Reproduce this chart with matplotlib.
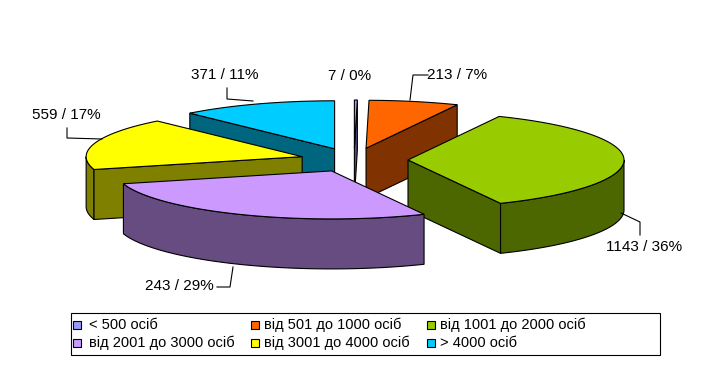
import numpy as np
import matplotlib
matplotlib.use("Agg")
import matplotlib.pyplot as plt
from matplotlib.patches import Polygon, Rectangle

# ---- data ----
categories = ["< 500 осіб", "від 501 до 1000 осіб", "від 1001 до 2000 осіб",
              "від 2001 до 3000 осіб", "від 3001 до 4000 осіб", "> 4000 осіб"]
values = [7, 213, 1143, 880, 559, 371]          # slice sizes (read from slice shares)
label_texts = ["7 / 0%", "213 / 7%", "1143 / 36%", "243 / 29%", "559 / 17%", "371 / 11%"]
top_colors = ["#9999FF", "#FF6600", "#99CC00", "#CC99FF", "#FFFF00", "#00CCFF"]
side_colors = ["#4C4C80", "#803300", "#4C6600", "#664C80", "#808000", "#006680"]

# ---- layout (pixel space) ----
W, H = 710, 391
CX, CY = 354, 160
RX, RY = 216, 48
DEPTH = 50
EXPLODE = 0.25
LW = 0.8
FONT = "Liberation Sans"

fig = plt.figure(figsize=(W / 100, H / 100), dpi=100)
ax = fig.add_axes([0, 0, 1, 1])
ax.set_xlim(0, W)
ax.set_ylim(H, 0)
ax.axis("off")

vals = np.array(values, dtype=float)
frac = vals / vals.sum()
ends = np.cumsum(frac) * 360.0
starts = ends - frac * 360.0


def pt(theta, ox, oy, dz=0.0, r=1.0):
    t = np.radians(theta)
    return ox + r * RX * np.sin(t), oy - r * RY * np.cos(t) + dz


slices = []
for i in range(len(vals)):
    mid = (starts[i] + ends[i]) / 2
    ox = CX + EXPLODE * RX * np.sin(np.radians(mid))
    oy = CY - EXPLODE * RY * np.cos(np.radians(mid))
    slices.append((oy, i, ox))

for oy, i, ox in sorted(slices):
    ts, te = starts[i], ends[i]
    kw_side = dict(facecolor=side_colors[i], edgecolor="black", linewidth=LW, joinstyle="miter")
    # outer wall (front half only)
    a0, a1 = max(ts, 90.0), min(te, 270.0)
    if a1 > a0:
        aa = np.linspace(a0, a1, 120)
        xs, ys = pt(aa, ox, oy)
        poly = np.column_stack([np.concatenate([xs, xs[::-1]]),
                                np.concatenate([ys, ys[::-1] + DEPTH])])
        ax.add_patch(Polygon(poly, closed=True, **kw_side))
    # radial walls
    for ang, visible in ((ts, np.sin(np.radians(ts)) < -1e-6),
                         (te, np.sin(np.radians(te)) > 1e-6)):
        if visible:
            px, py = pt(ang, ox, oy)
            poly = [(ox, oy), (px, py), (px, py + DEPTH), (ox, oy + DEPTH)]
            ax.add_patch(Polygon(poly, closed=True, **kw_side))
    # top
    aa = np.linspace(ts, te, max(4, int((te - ts) * 2)))
    xs, ys = pt(aa, ox, oy)
    poly = np.column_stack([np.concatenate([[ox], xs]), np.concatenate([[oy], ys])])
    ax.add_patch(Polygon(poly, closed=True, facecolor=top_colors[i], edgecolor="black",
                         linewidth=LW, joinstyle="miter"))

# ---- data labels with leader lines ----
label_pos = [(350, 76, "center"), (427, 75, "left"), (644, 247, "center"),
             (214, 286, "right"), (66, 115, "center"), (225, 75, "center")]
leaders = [None,
           [(428, 75), (413, 75), (410, 100)],
           [(621, 213), (640, 222), (640, 235)],
           [(217, 287), (230, 287), (233, 267)],
           [(67, 128), (67, 138), (102, 139)],
           [(227, 88), (227, 99), (253, 101)]]
for i, txt in enumerate(label_texts):
    x, y, ha = label_pos[i]
    ax.text(x, y, txt, ha=ha, va="center", fontsize=11, family=FONT, color="black")
    if leaders[i] is not None:
        lx, ly = zip(*leaders[i])
        ax.plot(lx, ly, color="black", linewidth=LW)

# ---- legend ----
ax.add_patch(Rectangle((71, 313), 589, 42, facecolor="white", edgecolor="black", linewidth=LW))
marker_x = [73, 251, 427]
text_x = [89, 264, 440]
row_y = [325, 343]
for i, name in enumerate(categories):
    r, c = divmod(i, 3)
    ax.add_patch(Rectangle((marker_x[c], row_y[r] - 4), 8, 8, facecolor=top_colors[i],
                           edgecolor="black", linewidth=LW))
    ax.text(text_x[c], row_y[r], name, ha="left", va="center", fontsize=10.5,
            family=FONT, color="black")

fig.savefig("out.png", dpi=100)
